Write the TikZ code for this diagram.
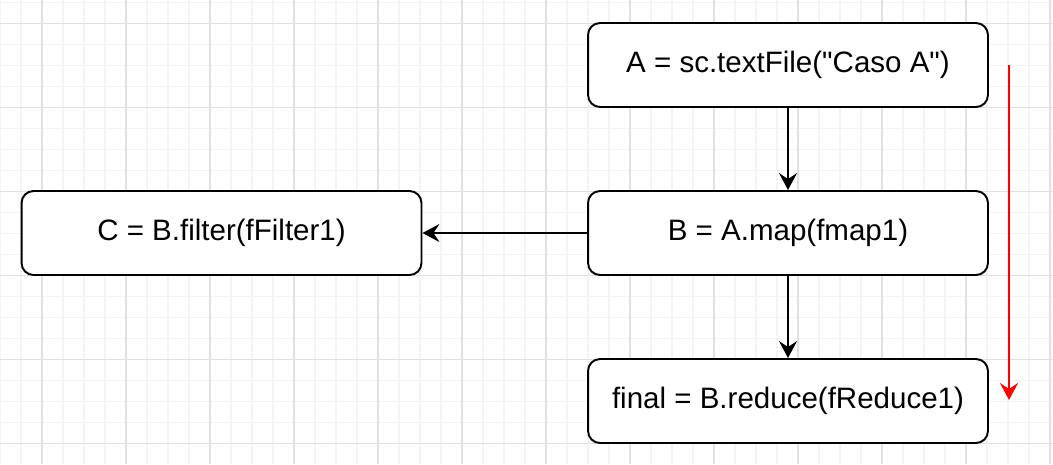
\documentclass[tikz,border=0pt]{standalone}
\usepackage{fontspec}
\setmainfont{Liberation Sans}
\usetikzlibrary{arrows.meta}
\definecolor{gridminor}{HTML}{F4F4F4}
\definecolor{gridmajor}{HTML}{E0E0E0}
\begin{document}
\begin{tikzpicture}[x=0.02cm,y=-0.02cm,
    box/.style={draw,line width=1.1pt,rounded corners=0.24cm,fill=white,
        minimum width=8cm,minimum height=1.68cm,
        font=\fontsize{16.8}{20}\selectfont},
    flow/.style={line width=1.1pt,-{Stealth[length=0.34cm,width=0.36cm,inset=0.12cm]}}]
    \useasboundingbox (0,0) rectangle (1053,464);
    \fill[white] (0,0) rectangle (1053,464);
    % grid
    \foreach \gx in {0,21,...,1050}
        \draw[gridminor,line width=0.6pt] (\gx,0) -- (\gx,464);
    \foreach \gy in {2.3,23.3,...,464}
        \draw[gridminor,line width=0.6pt] (0,\gy) -- (1053,\gy);
    \foreach \gx in {42,126,...,1050}
        \draw[gridmajor,line width=0.6pt] (\gx,0) -- (\gx,464);
    \foreach \gy in {23.3,107.3,...,464}
        \draw[gridmajor,line width=0.6pt] (0,\gy) -- (1053,\gy);

    \node[box] (textA) at (788,65) {A = sc.textFile(\textquotedbl Caso A\textquotedbl)};
    \node[box] (mapB) at (788,233) {B = A.map(fmap1)};
    \node[box] (filterC) at (221.5,233) {C = B.filter(fFilter1)};
    \node[box] (reduceF) at (788,401) {final = B.reduce(fReduce1)};

    \draw[flow] (textA) -- (mapB);
    \draw[flow] (mapB) -- (filterC);
    \draw[flow] (mapB) -- (reduceF);

    \coordinate (redtop) at (1009,65);
    \coordinate (redbot) at (1009,400);
    \draw[flow,red] (redtop) -- (redbot);
\end{tikzpicture}
\end{document}
